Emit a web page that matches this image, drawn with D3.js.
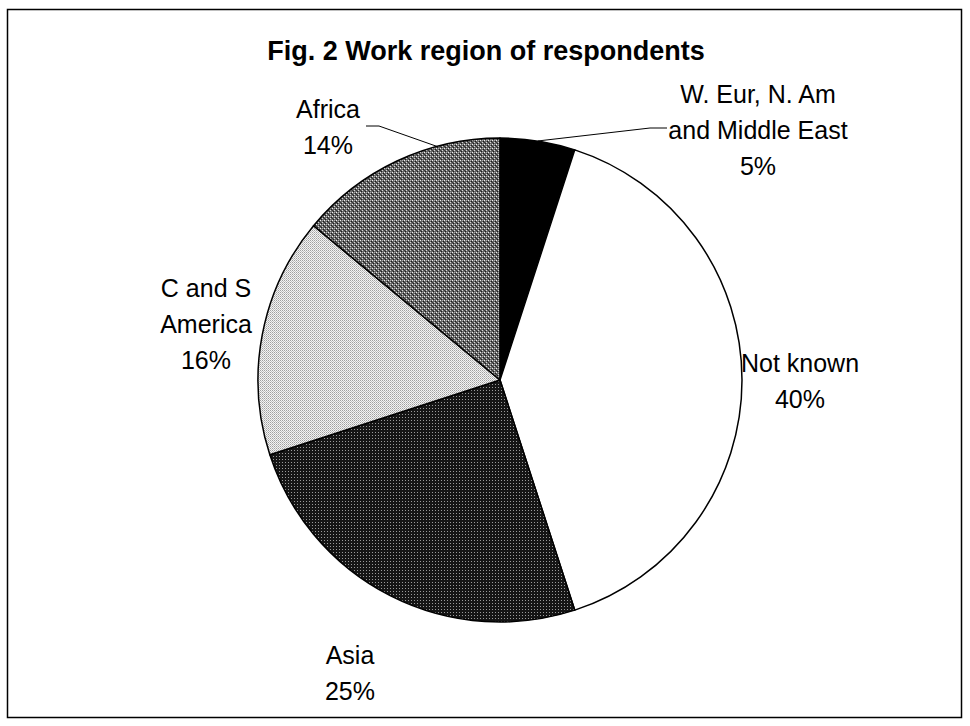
<!DOCTYPE html>
<html>
<head>
<meta charset="utf-8">
<script src="https://cdn.jsdelivr.net/npm/d3@7"></script>
<style>
  html, body { margin: 0; padding: 0; background: #fff; }
  svg { display: block; font-family: Arial, "Liberation Sans", sans-serif; }
</style>
</head>
<body>
<svg id="chart" width="970" height="726"></svg>
<script>
// Work region of respondents (per cent)
const regions = ["W. Eur, N. Am and Middle East", "Not known", "Asia", "C and S America", "Africa"];
const shares = [5, 40, 25, 16, 14];
// label lines as printed next to each slice
const labelLines = [
  ["W. Eur, N. Am", "and Middle East", "5%"],
  ["Not known", "40%"],
  ["Asia", "25%"],
  ["C and S", "America", "16%"],
  ["Africa", "14%"]
];
const fills = ["solid-black", "white", "dots-dark", "dots-light", "checks-mid"];

const W = 970, H = 726;
const svg = d3.select("#chart");

// fill patterns
const defs = svg.append("defs");
function pattern(id, size, bg, pixels) {
  const p = defs.append("pattern").attr("id", id)
    .attr("patternUnits", "userSpaceOnUse").attr("width", size).attr("height", size);
  p.append("rect").attr("width", size).attr("height", size).attr("fill", bg);
  pixels.forEach(([x, y, c]) => p.append("rect").attr("x", x).attr("y", y)
    .attr("width", 1).attr("height", 1).attr("fill", c));
}
pattern("dots-dark", 3, "#151515", [[1, 1, "#9a9a9a"]]);
pattern("dots-light", 2, "#f4f4f4", [[0, 0, "#a0a0a0"], [1, 1, "#c0c0c0"]]);
pattern("checks-mid", 4, "#666", [[0, 0, "#f0f0f0"], [2, 2, "#d8d8d8"], [1, 3, "#1a1a1a"], [3, 1, "#1a1a1a"], [0, 2, "#3a3a3a"], [2, 0, "#aaa"]]);
const fillOf = f => f === "solid-black" ? "#000" : f === "white" ? "#fff" : `url(#${f})`;

// outer frame
svg.append("rect").attr("x", 7.5).attr("y", 9.5).attr("width", 954).attr("height", 708)
  .attr("fill", "none").attr("stroke", "#000").attr("stroke-width", 1.5);

// title
svg.append("text").attr("x", 486).attr("y", 60).attr("text-anchor", "middle")
  .attr("font-weight", "bold").attr("font-size", 27).text("Fig. 2 Work region of respondents");

// pie
const cx = 500, cy = 380, r = 242;
const pie = d3.pie().sort(null).value(d => d)(shares);
const arc = d3.arc().innerRadius(0).outerRadius(r);
const g = svg.append("g").attr("transform", `translate(${cx},${cy})`);
g.selectAll("path").data(pie).join("path")
  .attr("d", arc)
  .attr("fill", (d, i) => fillOf(fills[i]))
  .attr("stroke", "#000").attr("stroke-width", 1.5).attr("stroke-linejoin", "round");

// label anchors (centre x, first baseline), per slice
const labelPos = [[758, 103], [800, 372], [350, 664], [206, 297], [328, 118]];
const lineGap = 36;
const labels = svg.append("g").attr("font-size", 25);
labelLines.forEach((lines, i) => {
  const t = labels.append("text").attr("text-anchor", "middle")
    .attr("x", labelPos[i][0]).attr("y", labelPos[i][1]);
  lines.forEach((s, k) => t.append("tspan").attr("x", labelPos[i][0])
    .attr("dy", k === 0 ? 0 : lineGap).text(s));
});

// leader lines from slice edge to the label
const edge = (d, k) => {
  const a = d.startAngle + (d.endAngle - d.startAngle) * k;
  return [cx + r * Math.sin(a), cy - r * Math.cos(a)];
};
const leaders = [
  [edge(pie[0], 0.5), [650, 128], [667, 128]],
  [edge(pie[4], 0.7), [379, 126], [366, 126]]
];
svg.append("g").selectAll("path").data(leaders).join("path")
  .attr("d", d => d3.line()(d)).attr("fill", "none")
  .attr("stroke", "#000").attr("stroke-width", 1);
</script>
</body>
</html>
